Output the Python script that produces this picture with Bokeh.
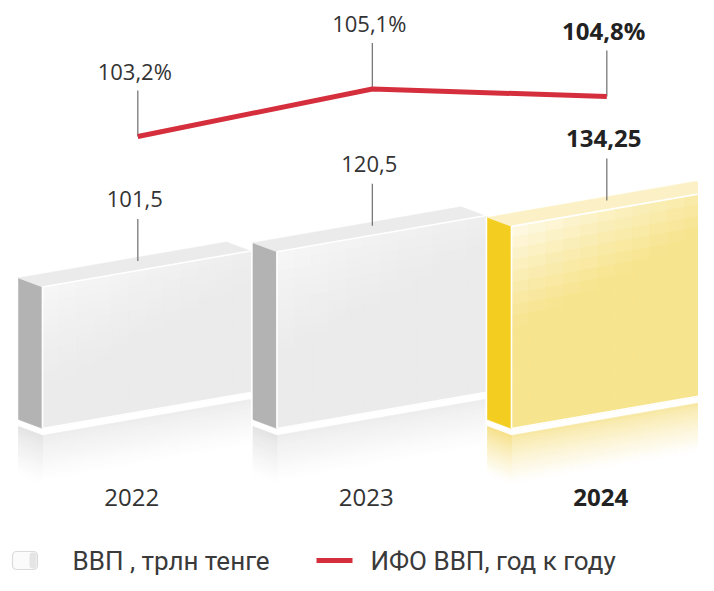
from bokeh.plotting import figure
from bokeh.models import Range1d, ColumnDataSource, BoxAnnotation
from bokeh.core.properties import value
from bokeh.embed import file_html
from bokeh.resources import INLINE

# ---------------- data ----------------
years = ["2022", "2023", "2024"]
gdp = [101.5, 120.5, 134.25]
gdp_labels = ["101,5", "120,5", "134,25"]
ifo = [103.2, 105.1, 104.8]
ifo_labels = ["103,2%", "105,1%", "104,8%"]
is_current = [False, False, True]
legend_labels = ["ВВП , трлн тенге", "ИФО ВВП, год к году"]

# ---------------- layout constants ----------------
W, H = 698, 575
SLOT = 234.5                 # px per category
X_START = -146.0 / SLOT
X_END = X_START + W / SLOT
KY = 1.85                    # px per GDP unit
BASE = 25.0                  # GDP value at bar bottoms
Y_END = BASE + 428.0 / KY
Y_START = Y_END - H / KY
KP = 25.0                    # px per percent unit
P_END = 108.64
P_START = P_END - H / KP


def dx(px):
    return px / SLOT


def dy(px):
    return px / KY


def dp(px):
    return px / KP


def fx(px):
    return X_START + px / SLOT


def fy(py):
    return Y_END - py / KY


def hex2rgb(h):
    h = h.lstrip('#')
    return tuple(int(h[i:i + 2], 16) for i in (0, 2, 4))


def mix(c1, c2, t):
    a = hex2rgb(c1)
    b = hex2rgb(c2)
    return "#%02x%02x%02x" % tuple(int(round(a[i] + (b[i] - a[i]) * t)) for i in range(3))


PAL = {
    False: dict(front="#ebebeb", hi="#f8f8f8", side="#b3b3b3", top="#ebebeb",
                refl="#ececec", refl_side="#e2e2e2"),
    True: dict(front="#f7e48e", hi="#fffcf0", side="#f3ce21", top="#fcf1c6",
               refl="#f8e7a0", refl_side="#f6df84"),
}

p = figure(width=W, height=H, x_range=Range1d(X_START, X_END),
           y_range=Range1d(Y_START, Y_END), toolbar_location=None,
           output_backend="svg", min_border=0, x_axis_location=None,
           y_axis_location=None, background_fill_color="white",
           border_fill_color="white", outline_line_color=None)
p.grid.visible = False
p.extra_y_ranges = {"pct": Range1d(P_START, P_END)}

HALF = dx(104)
SK = dy(36)
DXD = dx(-24)
DYD = dy(9)
GAP = dy(7)
RH = 48.0
NREF = 16

base_faces = dict(xs=[], ys=[], c=[])
cells = dict(xs=[], ys=[], c=[])
edges = dict(xs=[], ys=[])


def add(d, xs, ys, c):
    d['xs'].append(xs)
    d['ys'].append(ys)
    d['c'].append(c)


for i, (v, cur) in enumerate(zip(gdp, is_current)):
    pal = PAL[cur]
    xl, xr = i - HALF, i + HALF
    # reflection
    rh = dy(RH / NREF)
    for k in range(NREF):
        top = GAP + k * rh
        bot = GAP + (k + 1) * rh
        t = ((k + 0.5) / NREF) ** 0.8
        add(cells, [xl, xr, xr, xl],
            [BASE - top, BASE + SK - top, BASE + SK - bot, BASE - bot],
            mix(pal['refl'], "#ffffff", t))
        add(cells, [xl + DXD, xl, xl, xl + DXD],
            [BASE + DYD - top, BASE - top, BASE - bot, BASE + DYD - bot],
            mix(pal['refl_side'], "#ffffff", t))
    # side face
    add(base_faces, [xl + DXD, xl, xl, xl + DXD],
        [BASE + DYD, BASE, v, v + DYD], pal['side'])
    # top face
    add(base_faces, [xl, xr, xr + DXD, xl + DXD],
        [v, v + SK, v + SK + DYD, v + DYD], pal['top'])
    # front face base
    add(base_faces, [xl, xr, xr, xl], [BASE, BASE + SK, v + SK, v], pal['front'])
    # front gradient cells
    NC, NR = 12, 18
    hpx = (v - BASE) * KY
    for a in range(NC):
        u0, u1 = a / NC, (a + 1) / NC
        for b in range(NR):
            s0, s1 = b / NR, (b + 1) / NR
            uc, sc = (u0 + u1) / 2, (s0 + s1) / 2
            t = (sc * hpx + 0.35 * uc * 208) / 105.0
            t = min(1.0, t) ** 0.75
            col = mix(pal['hi'], pal['front'], t)

            def P(u, s):
                return (xl + u * (xr - xl), v + SK * u - s * (v - BASE))
            pts = [P(u0, s0), P(u1, s0), P(u1, s1), P(u0, s1)]
            add(cells, [q[0] for q in pts], [q[1] for q in pts], col)
    # white edges
    edges['xs'].append([xl, xr])
    edges['ys'].append([v, v + SK])
    edges['xs'].append([xl, xl])
    edges['ys'].append([BASE, v])
    edges['xs'].append([xl, xr])
    edges['ys'].append([BASE, BASE + SK])

p.patches('xs', 'ys', source=ColumnDataSource(base_faces), fill_color='c',
          line_color='c', line_width=0.6)
p.patches('xs', 'ys', source=ColumnDataSource(cells), fill_color='c',
          line_color='c', line_width=0.8)
p.multi_line('xs', 'ys', source=ColumnDataSource(edges), line_color="white",
             line_width=1.6)

# bar value leaders and labels
lead_x = [i - 0.037 for i in range(3)]
p.segment(x0=lead_x, x1=lead_x, y0=[v + dy(26) for v in gdp],
          y1=[v + dy(68) for v in gdp], line_color="#6e6e6e", line_width=1.2)

lab_x = [i - 0.05 for i in range(3)]
for bold in (False, True):
    idx = [k for k in range(3) if is_current[k] == bold]
    p.text(x=[lab_x[k] for k in idx], y=[gdp[k] + dy(88) for k in idx],
           text=[gdp_labels[k] for k in idx], text_font=value("Open Sans"),
           text_font_size="24px" if bold else "22px", text_align="center",
           text_baseline="middle",
           text_color="#222222" if bold else "#333333",
           text_font_style="bold" if bold else "normal")

# IFO line
line_x = [i - 0.037 for i in range(3)]
p.segment(x0=line_x, x1=line_x, y0=ifo, y1=[v + dp(46) for v in ifo],
          y_range_name="pct", line_color="#6e6e6e", line_width=1.2)
p.line(x=line_x, y=ifo, y_range_name="pct", line_color="#d52f3d",
       line_width=5)
for bold in (False, True):
    idx = [k for k in range(3) if is_current[k] == bold]
    p.text(x=[lab_x[k] for k in idx], y=[ifo[k] + dp(66) for k in idx],
           text=[ifo_labels[k] for k in idx], y_range_name="pct",
           text_font=value("Open Sans"),
           text_font_size="24px" if bold else "22px",
           text_align="center", text_baseline="middle",
           text_color="#222222" if bold else "#333333",
           text_font_style="bold" if bold else "normal")

# year labels
year_x = [i - 0.063 for i in range(3)]
for bold in (False, True):
    idx = [k for k in range(3) if is_current[k] == bold]
    p.text(x=[year_x[k] for k in idx], y=[fy(497)] * len(idx),
           text=[years[k] for k in idx], text_font=value("Open Sans"),
           text_font_size="24px", text_align="center", text_baseline="middle",
           text_color="#222222" if bold else "#333333",
           text_font_style="bold" if bold else "normal")

# legend
LEG_Y = 560
p.add_layout(BoxAnnotation(left=fx(12), right=fx(37), top=fy(LEG_Y - 9),
                           bottom=fy(LEG_Y + 9), fill_color="#fbfbfb",
                           fill_alpha=1.0, line_color="#8f8f8f", line_width=1.2,
                           border_radius=4))
p.add_layout(BoxAnnotation(left=fx(29), right=fx(36), top=fy(LEG_Y - 8),
                           bottom=fy(LEG_Y + 8), fill_color="#cfcfcf",
                           fill_alpha=0.5, line_alpha=0, border_radius=3))
p.segment(x0=[fx(316)], x1=[fx(352)], y0=[fy(LEG_Y)], y1=[fy(LEG_Y)],
          line_color="#d52f3d", line_width=5)
p.text(x=[fx(72), fx(370)], y=[fy(LEG_Y), fy(LEG_Y)], text=legend_labels,
       text_font=value("Roboto"), text_font_size="26px", text_align="left",
       text_baseline="middle", text_color="#3a3a3a")

open("out.html", "w").write(file_html(p, INLINE))
